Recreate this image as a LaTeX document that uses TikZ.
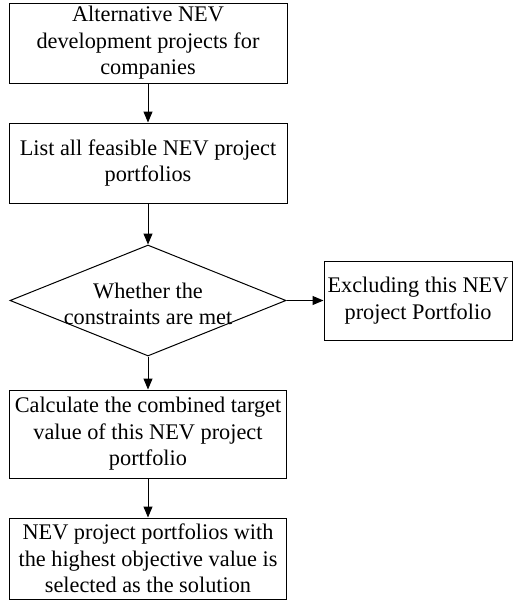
\documentclass[tikz,border=0pt]{standalone}
\usepackage{fontspec}
\setmainfont{Liberation Serif}
\usetikzlibrary{shapes.geometric,arrows.meta}
\begin{document}
\begin{tikzpicture}[x=1pt,y=-1pt,
  txt/.style={inner sep=0pt, align=center, font=\fontsize{22.3}{26.5}\selectfont},
  box/.style={txt, draw, line width=1pt},
  arr/.style={-{Triangle[length=11pt,width=9pt]}, line width=1pt}]
\useasboundingbox (0,0) rectangle (513,600);
\node[box, minimum width=278pt, minimum height=80pt] (b1) at (148,43) {Alternative NEV\\development projects for\\companies};
\node[box, minimum width=278pt, minimum height=80pt] (b2) at (148,163) {List all feasible NEV project\\portfolios};
\node[draw, line width=1pt, diamond, minimum width=276pt, minimum height=111pt, inner sep=0pt] (dia) at (148,300.5) {};
\node[txt] (dt) at (148,304) {Whether the\\constraints are met};
\node[box, minimum width=188pt, minimum height=79pt] (rb) at (418,300.5) {Excluding this NEV\\project Portfolio};
\node[box, minimum width=277pt, minimum height=88pt] (b3) at (148,434) {Calculate the combined target\\value of this NEV project\\portfolio};
\node[box, minimum width=277pt, minimum height=81pt] (b4) at (148,558.5) {NEV project portfolios with\\the highest objective value is\\selected as the solution};
\draw[arr] (b1.south) -- (b2.north);
\draw[arr] (b2.south) -- (dia.north);
\draw[arr] (dia.east) -- (rb.west);
\draw[arr] (dia.south) -- (b3.north);
\draw[arr] (b3.south) -- (b4.north);
\end{tikzpicture}
\end{document}
